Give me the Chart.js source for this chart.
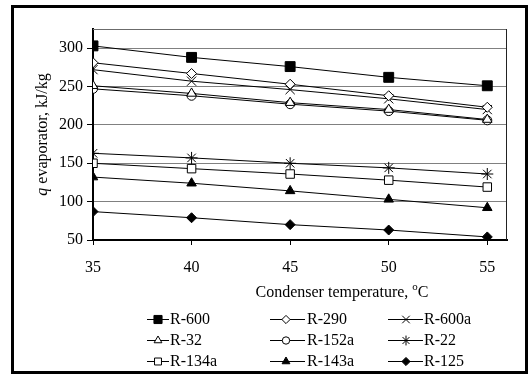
<!DOCTYPE html>
<html>
<head>
<meta charset="utf-8">
<script src="https://cdn.jsdelivr.net/npm/chart.js@4/dist/chart.umd.min.js"></script>
<style>
html,body{margin:0;padding:0;background:#fff;}
canvas{display:block;}
</style>
</head>
<body>
<canvas id="c" width="531" height="376"></canvas>
<script>
// ---- data ----
const temps = [35, 40, 45, 50, 55];
const xTicks = [35, 40, 45, 50, 55];
const yTicks = [50, 100, 150, 200, 250, 300];
const seriesNames = ['R-600', 'R-290', 'R-600a', 'R-32', 'R-152a', 'R-22', 'R-134a', 'R-143a', 'R-125'];
const r600  = [303, 288, 276, 262, 251];
const r290  = [281, 267, 253, 238, 223];
const r600a = [272, 257, 246, 234, 220];
const r32   = [251, 241, 229, 220, 207];
const r152a = [247, 238, 227, 218, 206];
const r22   = [163, 157, 150, 144, 136];
const r134a = [150, 143, 136, 128, 119];
const r143a = [132, 124, 114, 103, 92];
const r125  = [87, 79, 70, 63, 54];
const seriesValues = [r600, r290, r600a, r32, r152a, r22, r134a, r143a, r125];

// ---- styles ----
const markerStyles = [
  {pointStyle: 'rect', radius: 7, fill: '#000'},
  {pointStyle: 'rectRot', radius: 5, fill: '#fff'},
  {pointStyle: 'crossRot', radius: 6.5, fill: '#000'},
  {pointStyle: 'triangle', radius: 5.5, fill: '#fff'},
  {pointStyle: 'circle', radius: 4.5, fill: '#fff'},
  {pointStyle: 'star', radius: 6, fill: '#000'},
  {pointStyle: 'rect', radius: 6, fill: '#fff'},
  {pointStyle: 'triangle', radius: 5.5, fill: '#000'},
  {pointStyle: 'rectRot', radius: 5, fill: '#000'}
];

const SERIF = '"Liberation Serif", "Times New Roman", serif';

const datasets = seriesNames.map((name, i) => ({
  label: name,
  data: temps.map((t, j) => ({x: t, y: seriesValues[i][j]})),
  borderColor: '#000',
  borderWidth: 1,
  pointStyle: markerStyles[i].pointStyle,
  pointRadius: markerStyles[i].radius,
  pointHoverRadius: markerStyles[i].radius,
  pointBackgroundColor: markerStyles[i].fill,
  pointBorderColor: '#000',
  pointBorderWidth: 1,
  fill: false,
  tension: 0
}));

const decor = {
  id: 'decor',
  beforeDatasetsDraw(chart) {
    const {ctx, chartArea: a} = chart;
    ctx.save();
    ctx.strokeStyle = '#6b6b6b';
    ctx.lineWidth = 1;
    ctx.beginPath();
    ctx.moveTo(a.left, a.top + 0.5);
    ctx.lineTo(a.right - 0.5, a.top + 0.5);
    ctx.stroke();
    ctx.strokeStyle = '#222';
    ctx.beginPath();
    ctx.moveTo(a.right - 0.5, a.top);
    ctx.lineTo(a.right - 0.5, a.bottom);
    ctx.stroke();
    ctx.restore();
  },
  afterDraw(chart) {
    const {ctx, chartArea: a} = chart;
    ctx.save();
    // outer frame
    ctx.strokeStyle = '#000';
    ctx.lineWidth = 3;
    ctx.strokeRect(12.5, 6.5, 514, 366);

    ctx.fillStyle = '#000';
    ctx.textBaseline = 'alphabetic';
    // y title
    ctx.save();
    ctx.translate(47, (a.top + a.bottom) / 2);
    ctx.rotate(-Math.PI / 2);
    const fItal = 'italic 16px ' + SERIF;
    const fReg = '16px ' + SERIF;
    const p1 = 'q', p2 = ' evaporator, kJ/kg';
    ctx.font = fItal; const w1 = ctx.measureText(p1).width;
    ctx.font = fReg; const w2 = ctx.measureText(p2).width;
    let sx = -(w1 + w2) / 2;
    ctx.textAlign = 'left';
    ctx.font = fItal; ctx.fillText(p1, sx, 0);
    ctx.font = fReg; ctx.fillText(p2, sx + w1, 0);
    ctx.restore();

    // x title
    const t1 = 'Condenser temperature, ', t2 = 'o', t3 = 'C';
    ctx.font = fReg; const a1 = ctx.measureText(t1).width;
    ctx.font = '11px ' + SERIF; const a2 = ctx.measureText(t2).width;
    ctx.font = fReg; const a3 = ctx.measureText(t3).width;
    let tx = 342 - (a1 + a2 + a3) / 2;
    const ty = 297;
    ctx.textAlign = 'left';
    ctx.font = fReg; ctx.fillText(t1, tx, ty);
    ctx.font = '11px ' + SERIF; ctx.fillText(t2, tx + a1, ty - 7);
    ctx.font = fReg; ctx.fillText(t3, tx + a1 + a2, ty);

    // legend
    const cols = [{l: 147, r: 169, m: 158, t: 170}, {l: 270, r: 305, m: 286, t: 307}, {l: 388, r: 423, m: 406, t: 424}];
    const rows = [319, 340, 361];
    const drawPoint = Chart.helpers && Chart.helpers.drawPoint;
    chart.data.datasets.forEach((ds, i) => {
      const c = cols[i % 3], y = rows[Math.floor(i / 3)];
      ctx.strokeStyle = '#000';
      ctx.lineWidth = 1;
      ctx.beginPath();
      ctx.moveTo(c.l, y + 0.5);
      ctx.lineTo(c.r, y + 0.5);
      ctx.stroke();
      ctx.fillStyle = ds.pointBackgroundColor;
      ctx.strokeStyle = '#000';
      if (drawPoint) {
        drawPoint(ctx, {pointStyle: ds.pointStyle, radius: ds.pointRadius * 0.82, rotation: 0, borderWidth: 1}, c.m, y + 0.5);
      }
      ctx.fillStyle = '#000';
      ctx.font = fReg;
      ctx.textAlign = 'left';
      ctx.fillText(ds.label, c.t, y + 5);
    });
    ctx.restore();
  }
};

new Chart(document.getElementById('c'), {
  type: 'line',
  data: {datasets},
  options: {
    responsive: false,
    animation: false,
    devicePixelRatio: 1,
    layout: {padding: {left: 0, top: 29, right: 24, bottom: 0}},
    plugins: {legend: {display: false}, tooltip: {enabled: false}},
    scales: {
      x: {
        type: 'linear',
        min: 35,
        max: 56,
        afterBuildTicks: s => { s.ticks = xTicks.map(v => ({value: v})); },
        afterFit: s => { s.height = 136; },
        ticks: {stepSize: 5, color: '#000', padding: 13, font: {family: SERIF, size: 16}, maxRotation: 0},
        grid: {drawOnChartArea: false, tickLength: 5, tickColor: '#000'},
        border: {color: '#000', width: 2}
      },
      y: {
        min: 50,
        max: 325,
        afterBuildTicks: s => { s.ticks = yTicks.map(v => ({value: v})); },
        afterFit: s => { s.width = 93; },
        ticks: {stepSize: 50, color: '#000', padding: 4, font: {family: SERIF, size: 16}},
        grid: {color: '#808080', lineWidth: 1, tickLength: 6, tickColor: '#000'},
        border: {color: '#000', width: 2}
      }
    }
  },
  plugins: [decor]
});
</script>
</body>
</html>
